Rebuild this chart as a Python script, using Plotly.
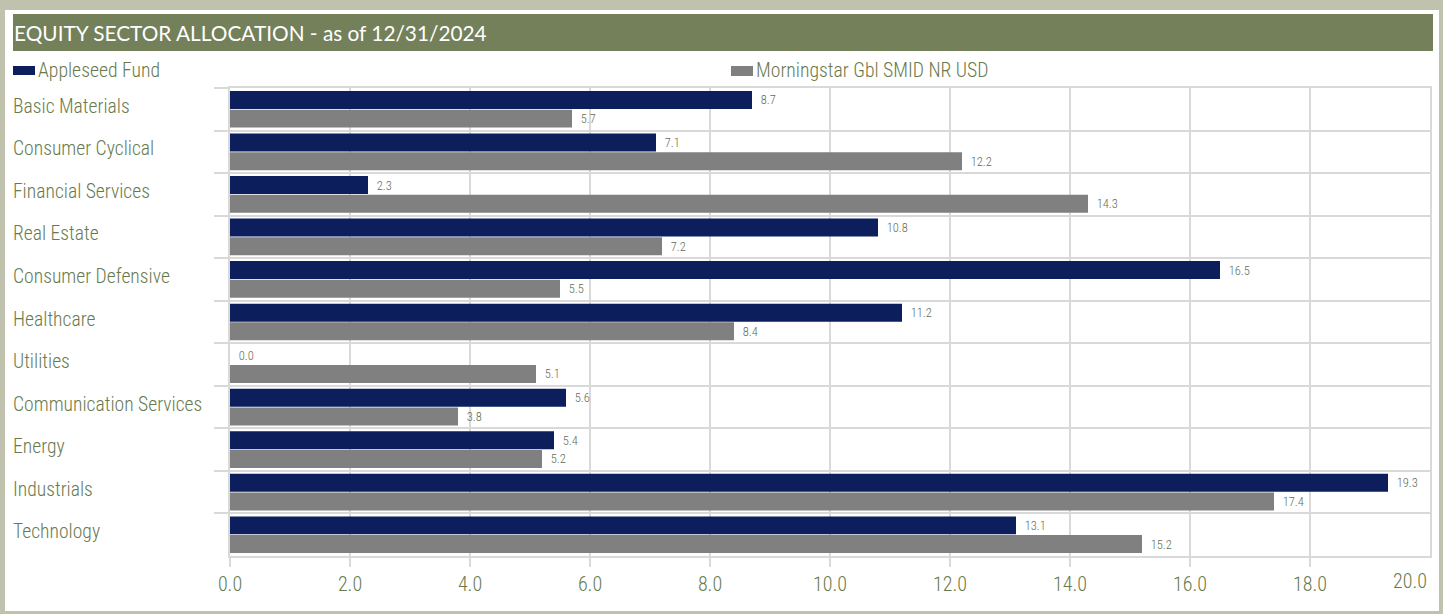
import plotly.graph_objects as go

categories = ["Basic Materials", "Consumer Cyclical", "Financial Services", "Real Estate",
              "Consumer Defensive", "Healthcare", "Utilities", "Communication Services",
              "Energy", "Industrials", "Technology"]
fund_values = [8.7, 7.1, 2.3, 10.8, 16.5, 11.2, 0.0, 5.6, 5.4, 19.3, 13.1]
bench_values = [5.7, 12.2, 14.3, 7.2, 5.5, 8.4, 5.1, 3.8, 5.2, 17.4, 15.2]
series_names = ["Appleseed Fund", "Morningstar Gbl SMID NR USD"]
x_ticks = [0, 2, 4, 6, 8, 10, 12, 14, 16, 18, 20]
title_text = "EQUITY SECTOR ALLOCATION - as of 12/31/2024"

W, H = 1443, 614
L, R, T, B = 230, 13, 88, 58
PW, PH = W - L - R, H - T - B

def px(x):
    return (x - L) / PW

def py(y):
    return (H - B - y) / PH

NAVY = "#0c1f5c"
GREY = "#808080"
OLIVE = "#687a4d"
LABEL = "#646c50"
GRID = "#d9d9d9"
COND = "Liberation Sans Narrow, Arial Narrow, Roboto Condensed, Roboto, sans-serif"

fig = go.Figure()
for name, vals, col in [(series_names[0], fund_values, NAVY), (series_names[1], bench_values, GREY)]:
    fig.add_trace(go.Bar(
        y=categories, x=vals, orientation="h", name=name, marker_color=col,
        marker_line_width=0,
        text=["\u00a0\u00a0" + f"{v:.1f}" for v in vals], textposition="outside",
        textfont=dict(family=COND, size=12.5, color=LABEL, weight=300), cliponaxis=False,
    ))

shapes = [
    dict(type="rect", xref="paper", yref="paper", x0=px(5), x1=px(1439), y0=py(611), y1=py(10),
         fillcolor="white", line_width=0, layer="below"),
    dict(type="rect", xref="paper", yref="paper", x0=px(13), x1=px(1433), y0=py(51), y1=py(14),
         fillcolor="#74805a", line_width=0, layer="below"),
    dict(type="rect", xref="paper", yref="paper", x0=px(13), x1=px(35), y0=py(75), y1=py(66),
         fillcolor=NAVY, line_width=0),
    dict(type="rect", xref="paper", yref="paper", x0=px(731), x1=px(753), y0=py(76), y1=py(66),
         fillcolor=GREY, line_width=0),
]

annotations = [
    dict(xref="paper", yref="paper", x=px(12), y=py(33), text=title_text, showarrow=False,
         xanchor="left", yanchor="middle", font=dict(family="Lato, Open Sans, sans-serif", size=20.8, color="white")),
    dict(xref="paper", yref="paper", x=px(36), y=py(71), text=series_names[0], showarrow=False,
         xanchor="left", yanchor="middle", font=dict(family=COND, size=19.7, color=OLIVE, weight=300)),
    dict(xref="paper", yref="paper", x=px(754), y=py(71), text=series_names[1], showarrow=False,
         xanchor="left", yanchor="middle", font=dict(family=COND, size=19.7, color=OLIVE, weight=300)),
]
for c in categories:
    annotations.append(dict(xref="paper", yref="y", x=px(11), y=c, text=c, showarrow=False,
                            xanchor="left", yanchor="middle", yshift=3,
                            font=dict(family=COND, size=19.6, color=OLIVE, weight=300)))

# last tick label is pulled inside the frame, as in the reference
tick_text = [f"{v:.1f}" for v in x_ticks]
annotations.append(dict(xref="x", yref="paper", x=x_ticks[-1], y=py(581), text=tick_text[-1],
                        showarrow=False, xanchor="right", yanchor="middle", xshift=-1,
                        font=dict(family=COND, size=20, color=OLIVE, weight=300)))

fig.update_layout(
    width=W, height=H, margin=dict(l=L, r=R, t=T, b=B, pad=0),
    paper_bgcolor="#c0c2ae", plot_bgcolor="white",
    barmode="group", bargap=0.12, bargroupgap=0.04,
    showlegend=False, shapes=shapes, annotations=annotations,
    xaxis=dict(range=[0, 20], tickvals=x_ticks[:-1], ticktext=tick_text[:-1],
               showgrid=True, gridcolor=GRID, gridwidth=2, zeroline=False,
               showline=True, linecolor=GRID, linewidth=2, mirror=True,
               ticks="outside", ticklen=9, tickwidth=2, tickcolor=GRID,
               tickfont=dict(family=COND, size=20, color=OLIVE, weight=300)),
    yaxis=dict(categoryorder="array", categoryarray=categories, autorange="reversed",
               showticklabels=False, tickson="boundaries", ticks="outside", ticklen=14,
               tickwidth=2, tickcolor=GRID, showgrid=True, gridcolor=GRID, gridwidth=2,
               showline=True, linecolor=GRID, linewidth=2, mirror=True),
)

fig.write_html("out.html", config={"displayModeBar": False},
               post_script="document.body.style.margin='0';document.body.style.overflow='hidden';")
